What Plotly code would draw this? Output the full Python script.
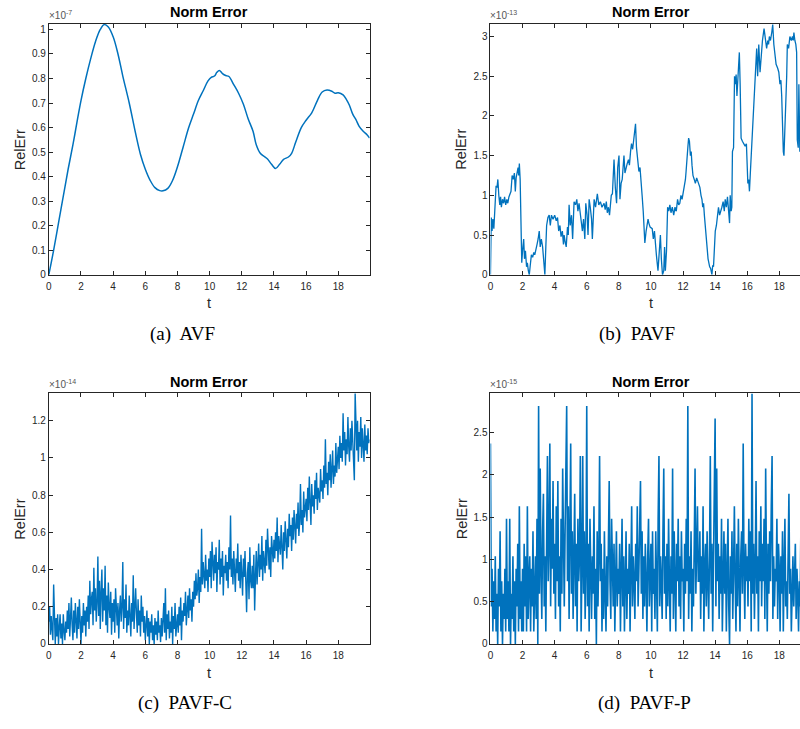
import plotly.graph_objects as go

# ---------------- data ----------------
# (a) AVF, RelErr in units of 1e-7
avf_points = [(0, 0), (0.3, 0.1), (0.6, 0.21), (0.9, 0.32), (1.2, 0.43), (1.5, 0.53), (1.8, 0.64),
              (2.0, 0.71), (2.3, 0.8), (2.6, 0.88), (2.9, 0.95), (3.2, 1.0), (3.45, 1.02), (3.7, 1.01),
              (4.0, 0.97), (4.3, 0.9), (4.6, 0.81), (5.0, 0.7), (5.4, 0.575), (5.7, 0.49), (6.0, 0.43),
              (6.3, 0.385), (6.6, 0.355), (6.9, 0.343), (7.1, 0.342), (7.4, 0.352), (7.7, 0.385),
              (8.0, 0.44), (8.35, 0.52), (8.7, 0.6), (9.0, 0.655), (9.3, 0.71), (9.6, 0.75),
              (9.9, 0.79), (10.1, 0.805), (10.3, 0.81), (10.45, 0.825), (10.6, 0.833), (10.8, 0.82),
              (11.0, 0.812), (11.2, 0.808), (11.5, 0.775), (11.8, 0.74), (12.1, 0.695), (12.4, 0.635),
              (12.7, 0.585), (12.9, 0.53), (13.15, 0.495), (13.4, 0.482), (13.6, 0.472), (13.85, 0.45),
              (14.1, 0.433), (14.35, 0.45), (14.6, 0.47), (14.9, 0.48), (15.1, 0.495), (15.35, 0.54),
              (15.7, 0.6), (16.0, 0.63), (16.35, 0.66), (16.7, 0.71), (17.0, 0.745), (17.3, 0.753),
              (17.6, 0.748), (17.8, 0.74), (18.0, 0.742), (18.3, 0.733), (18.5, 0.715), (18.7, 0.69),
              (18.9, 0.655), (19.1, 0.632), (19.3, 0.605), (19.55, 0.585), (19.8, 0.57), (19.95, 0.557)]

# (b) PAVF, RelErr in units of 1e-13
pavf_points = [(0, 0), (0.05, 0.72), (0.1, 0.55), (0.15, 0.7), (0.21, 0.58), (0.28, 0.95), (0.35, 1.12),
               (0.41, 1.1), (0.46, 1.2), (0.52, 1.0), (0.58, 0.88), (0.63, 0.98), (0.68, 0.85), (0.75, 0.95),
               (0.82, 0.9), (0.88, 0.98), (0.95, 0.88), (1.02, 0.95), (1.08, 0.9), (1.15, 0.98), (1.22, 1.02),
               (1.28, 1.05), (1.35, 1.25), (1.42, 1.2), (1.49, 1.28), (1.55, 1.05), (1.6, 1.22), (1.66, 1.3),
               (1.72, 1.35), (1.76, 1.25), (1.8, 1.4), (1.85, 1.2), (1.9, 0.55), (1.95, 0.15), (2.0, 0.3),
               (2.07, 0.45), (2.12, 0.2), (2.18, 0.3), (2.25, 0.1), (2.3, 0.15), (2.36, 0.05), (2.42, 0.0),
               (2.48, 0.12), (2.55, 0.25), (2.63, 0.22), (2.7, 0.28), (2.76, 0.25), (2.83, 0.3), (2.9, 0.38),
               (2.97, 0.45), (3.04, 0.55), (3.1, 0.35), (3.17, 0.45), (3.25, 0.35), (3.32, 0.2), (3.39, 0.0),
               (3.45, 0.35), (3.5, 0.62), (3.58, 0.72), (3.66, 0.75), (3.73, 0.62), (3.8, 0.75), (3.9, 0.7),
               (4.0, 0.75), (4.1, 0.68), (4.18, 0.72), (4.25, 0.55), (4.33, 0.62), (4.4, 0.48), (4.48, 0.55),
               (4.55, 0.38), (4.59, 0.5), (4.65, 0.42), (4.72, 0.35), (4.8, 0.6), (4.85, 0.5), (4.9, 0.88),
               (4.97, 0.62), (5.05, 0.75), (5.12, 0.45), (5.21, 0.92), (5.3, 0.88), (5.38, 0.95), (5.45, 0.8),
               (5.52, 0.9), (5.63, 0.72), (5.73, 0.55), (5.8, 0.7), (5.88, 0.45), (5.94, 0.9), (6.02, 0.75),
               (6.08, 0.5), (6.15, 0.95), (6.22, 0.85), (6.3, 0.7), (6.35, 0.45), (6.42, 0.88), (6.46, 0.95),
               (6.55, 0.85), (6.66, 1.02), (6.75, 0.88), (6.85, 0.92), (6.95, 0.85), (7.08, 0.9), (7.15, 0.82),
               (7.22, 0.92), (7.28, 0.78), (7.35, 0.85), (7.42, 0.75), (7.49, 0.95), (7.53, 1.0), (7.6, 1.02),
               (7.65, 1.3), (7.7, 1.45), (7.78, 1.1), (7.86, 0.9), (7.93, 1.35), (8.01, 1.5), (8.07, 0.95),
               (8.14, 1.15), (8.21, 1.2), (8.27, 1.38), (8.32, 1.5), (8.38, 1.28), (8.45, 1.35), (8.52, 1.4),
               (8.6, 1.45), (8.66, 1.38), (8.73, 1.55), (8.79, 1.65), (8.86, 1.58), (8.94, 1.75), (9.0, 1.82),
               (9.04, 1.9), (9.1, 1.6), (9.15, 1.5), (9.2, 1.4), (9.25, 1.3), (9.32, 1.35), (9.39, 1.2),
               (9.45, 1.0), (9.52, 0.8), (9.57, 0.5), (9.62, 0.4), (9.7, 0.55), (9.77, 0.68), (9.82, 0.7),
               (9.87, 0.65), (9.95, 0.6), (10.08, 0.58), (10.15, 0.45), (10.22, 0.55), (10.28, 0.35),
               (10.34, 0.25), (10.39, 0.15), (10.44, 0.05), (10.49, 0.2), (10.54, 0.45), (10.59, 0.5),
               (10.65, 0.2), (10.72, 0.0), (10.8, 0.05), (10.85, 0.35), (10.9, 0.05), (10.97, 0.3),
               (11.04, 0.85), (11.11, 0.8), (11.18, 0.88), (11.25, 0.78), (11.33, 0.85), (11.42, 0.75),
               (11.5, 0.85), (11.58, 0.8), (11.66, 0.95), (11.73, 0.88), (11.8, 0.9), (11.87, 1.0),
               (11.94, 0.95), (12.04, 1.05), (12.1, 1.15), (12.15, 1.2), (12.19, 1.3), (12.25, 1.55),
               (12.3, 1.6), (12.35, 1.72), (12.4, 1.68), (12.46, 1.5), (12.51, 1.55), (12.56, 1.38),
               (12.62, 1.25), (12.7, 1.2), (12.77, 1.15), (12.85, 1.22), (12.92, 1.18), (12.97, 1.15),
               (13.05, 1.1), (13.12, 1.0), (13.18, 0.95), (13.23, 0.85), (13.28, 0.9), (13.33, 0.75),
               (13.39, 0.6), (13.44, 0.45), (13.49, 0.3), (13.56, 0.2), (13.66, 0.1), (13.72, 0.08),
               (13.8, 0.0), (13.85, 0.12), (13.9, 0.1), (13.96, 0.3), (14.01, 0.55), (14.08, 0.62),
               (14.15, 0.8), (14.21, 0.85), (14.28, 0.75), (14.35, 0.82), (14.42, 0.85), (14.5, 0.92),
               (14.57, 0.8), (14.63, 0.95), (14.7, 0.85), (14.77, 0.98), (14.84, 0.8), (14.9, 0.65),
               (14.94, 1.0), (15.0, 0.8), (15.04, 0.85), (15.08, 1.55), (15.15, 1.6), (15.21, 2.5),
               (15.26, 2.4), (15.31, 2.52), (15.36, 2.25), (15.42, 2.55), (15.46, 2.7), (15.51, 2.8),
               (15.56, 2.4), (15.62, 1.72), (15.7, 1.68), (15.78, 1.65), (15.87, 1.62), (15.95, 1.65),
               (16.04, 1.15), (16.09, 1.2), (16.14, 1.05), (16.2, 1.3), (16.28, 1.65), (16.35, 1.8),
               (16.42, 2.25), (16.49, 2.5), (16.54, 2.6), (16.59, 2.85), (16.65, 2.5), (16.72, 2.9),
               (16.8, 2.55), (16.88, 2.8), (16.95, 2.95), (17.05, 3.1), (17.12, 2.95), (17.21, 2.85),
               (17.28, 2.95), (17.33, 2.9), (17.38, 3.0), (17.45, 2.95), (17.53, 3.05), (17.59, 3.15),
               (17.66, 2.9), (17.73, 2.8), (17.8, 2.65), (17.9, 2.6), (17.97, 2.55), (18.04, 2.4),
               (18.1, 2.45), (18.15, 2.25), (18.21, 1.6), (18.25, 1.55), (18.29, 1.5), (18.35, 2.0),
               (18.41, 2.2), (18.46, 2.5), (18.5, 2.9), (18.58, 2.85), (18.66, 3.0), (18.75, 2.95),
               (18.82, 3.0), (18.87, 2.95), (18.91, 3.05), (18.97, 2.95), (19.03, 2.9), (19.08, 2.8),
               (19.12, 1.7), (19.18, 1.6), (19.22, 2.4), (19.28, 1.55), (19.35, 1.8), (19.45, 2.0),
               (19.6, 2.2), (19.75, 1.9), (19.95, 1.7)]

# (c) PAVF-C, RelErr in units of 1e-14, sampled every 0.05 in t
pavfc_step = 0.05
pavfc_values = [
    0.12, 0.20, 0.05, 0.15, 0.08, 0.02, 0.32, 0.10, 0.00, 0.14, 0.04, 0.16, 0.00, 0.09, 0.16, 0.03, 0.11, 0.00, 0.16, 0.07,
    0.02, 0.12, 0.06, 0.18, 0.08, 0.22, 0.04, 0.14, 0.25, 0.10, 0.02, 0.18, 0.06, 0.22, 0.12, 0.03, 0.20, 0.08, 0.24, 0.13,
    0.00, 0.15, 0.06, 0.22, 0.10, 0.18, 0.04, 0.20, 0.12, 0.26, 0.08, 0.34, 0.16, 0.24, 0.28, 0.10, 0.41, 0.18, 0.30, 0.12,
    0.22, 0.47, 0.15, 0.34, 0.08, 0.28, 0.40, 0.12, 0.30, 0.18, 0.42, 0.10, 0.26, 0.06, 0.33, 0.20, 0.14, 0.28, 0.05, 0.22,
    0.12, 0.24, 0.06, 0.30, 0.16, 0.10, 0.22, 0.03, 0.18, 0.26, 0.12, 0.20, 0.44, 0.08, 0.24, 0.14, 0.32, 0.06, 0.18, 0.10,
    0.26, 0.14, 0.04, 0.22, 0.12, 0.37, 0.08, 0.20, 0.30, 0.16, 0.06, 0.24, 0.10, 0.18, 0.04, 0.26, 0.12, 0.20, 0.06, 0.15,
    0.02, 0.10, 0.18, 0.04, 0.14, 0.00, 0.12, 0.06, 0.16, 0.02, 0.10, 0.00, 0.14, 0.05, 0.12, 0.02, 0.18, 0.06, 0.10, 0.01,
    0.14, 0.04, 0.12, 0.22, 0.06, 0.30, 0.02, 0.16, 0.08, 0.18, 0.03, 0.12, 0.06, 0.20, 0.00, 0.15, 0.08, 0.22, 0.04, 0.10,
    0.16, 0.06, 0.20, 0.10, 0.25, 0.02, 0.18, 0.12, 0.22, 0.15, 0.28, 0.10, 0.20, 0.26, 0.14, 0.30, 0.18, 0.24, 0.12, 0.28,
    0.20, 0.34, 0.24, 0.38, 0.26, 0.30, 0.40, 0.22, 0.36, 0.28, 0.62, 0.32, 0.44, 0.36, 0.30, 0.48, 0.34, 0.40, 0.28, 0.46,
    0.36, 0.50, 0.30, 0.55, 0.42, 0.34, 0.48, 0.38, 0.52, 0.28, 0.44, 0.40, 0.56, 0.32, 0.46, 0.36, 0.50, 0.26, 0.42, 0.38,
    0.48, 0.34, 0.44, 0.30, 0.52, 0.40, 0.69, 0.36, 0.46, 0.32, 0.50, 0.42, 0.28, 0.46, 0.38, 0.54, 0.34, 0.44, 0.30, 0.48,
    0.40, 0.26, 0.46, 0.36, 0.50, 0.30, 0.17, 0.38, 0.44, 0.24, 0.52, 0.34, 0.30, 0.42, 0.30, 0.48, 0.18, 0.36, 0.50, 0.32,
    0.42, 0.54, 0.36, 0.48, 0.40, 0.58, 0.34, 0.50, 0.44, 0.38, 0.56, 0.42, 0.62, 0.46, 0.40, 0.52, 0.36, 0.58, 0.48, 0.44,
    0.56, 0.46, 0.60, 0.50, 0.68, 0.44, 0.58, 0.52, 0.48, 0.64, 0.54, 0.40, 0.60, 0.50, 0.66, 0.56, 0.46, 0.62, 0.52, 0.70,
    0.58, 0.64, 0.50, 0.68, 0.56, 0.72, 0.60, 0.54, 0.70, 0.62, 0.76, 0.58, 0.66, 0.86, 0.64, 0.72, 0.60, 0.82, 0.68, 0.74,
    0.78, 0.66, 0.84, 0.72, 0.90, 0.76, 0.64, 0.86, 0.74, 0.80, 0.70, 0.88, 0.78, 0.92, 0.72, 0.84, 0.80, 0.76, 0.94, 0.82,
    0.88, 0.78, 0.96, 0.84, 1.10, 0.86, 0.92, 0.80, 0.98, 0.88, 1.02, 0.84, 0.94, 1.04, 0.86, 0.96, 0.90, 1.08, 0.92, 1.00,
    1.06, 0.94, 1.12, 1.00, 1.08, 0.98, 1.24, 1.04, 1.14, 0.96, 1.10, 1.02, 1.22, 1.06, 0.98, 1.16, 1.04, 1.20, 1.08, 1.00,
    0.88, 1.35, 1.12, 1.04, 1.20, 0.98, 1.14, 1.06, 1.22, 1.00, 1.16, 1.08, 0.98, 1.18, 1.04, 1.12, 1.02, 1.16, 1.08, 1.10,
]

# (d) PAVF-P, RelErr quantised in steps of ~0.148e-15, sampled every 0.05 in t
pavfp_step = 0.05
pavfp_quantum = 0.148
pavfp_levels = [
    16, 3, 6, 1, 5, 2, 7, 1, 4, 0, 6, 3, 9, 1, 5, 0, 4, 2, 6, 1,
    10, 2, 5, 1, 10, 0, 4, 2, 7, 1, 5, 0, 6, 3, 8, 1, 11, 2, 5, 1,
    6, 1, 8, 3, 7, 1, 11, 2, 5, 7, 1, 6, 3, 9, 1, 4, 7, 2, 10, 0,
    19, 4, 14, 6, 2, 9, 12, 3, 7, 1, 10, 15, 5, 8, 16, 3, 10, 6, 13, 4,
    8, 2, 11, 5, 13, 3, 7, 1, 10, 4, 14, 6, 3, 9, 16, 19, 5, 11, 2, 8,
    16, 4, 9, 2, 7, 12, 3, 8, 1, 10, 5, 7, 15, 1, 6, 15, 4, 9, 2, 6,
    19, 3, 8, 1, 10, 5, 2, 7, 4, 11, 2, 6, 0, 9, 3, 7, 15, 5, 8, 1,
    6, 2, 9, 4, 1, 7, 3, 8, 13, 5, 2, 10, 6, 3, 8, 1, 5, 9, 3, 6,
    4, 8, 1, 6, 10, 3, 7, 1, 5, 9, 2, 6, 4, 8, 1, 6, 11, 3, 7, 5,
    2, 8, 5, 11, 3, 6, 12, 13, 4, 9, 2, 7, 3, 8, 5, 1, 7, 10, 3, 6,
    8, 1, 9, 4, 6, 2, 9, 5, 1, 10, 15, 3, 7, 5, 2, 9, 14, 4, 7, 2,
    8, 3, 10, 5, 1, 7, 4, 14, 2, 9, 6, 1, 8, 5, 10, 3, 7, 2, 9, 5,
    6, 1, 8, 4, 10, 5, 19, 2, 7, 4, 9, 1, 6, 3, 8, 14, 4, 7, 11, 5,
    5, 9, 2, 7, 4, 11, 1, 6, 8, 3, 9, 5, 2, 7, 15, 4, 8, 1, 6, 10,
    18, 3, 14, 5, 8, 2, 7, 4, 10, 1, 6, 9, 4, 8, 1, 5, 10, 3, 0, 7,
    4, 9, 2, 6, 11, 5, 1, 8, 3, 10, 6, 1, 7, 9, 4, 16, 6, 2, 8, 5,
    7, 3, 10, 5, 9, 1, 20, 4, 8, 2, 6, 13, 4, 7, 1, 9, 5, 11, 3, 8,
    5, 10, 2, 14, 6, 1, 8, 4, 9, 5, 11, 15, 2, 7, 3, 6, 5, 10, 2, 8,
    6, 1, 7, 4, 9, 1, 6, 10, 3, 5, 2, 8, 12, 4, 6, 1, 5, 7, 3, 5,
    8, 2, 6, 4, 1, 5, 3, 10, 2, 5, 3, 7, 4, 1, 6, 3, 5, 2, 7, 4,
]

x_ticks = [0, 2, 4, 6, 8, 10, 12, 14, 16, 18]
captions = ["(a)\u00a0 AVF", "(b)\u00a0 PAVF", "(c)\u00a0 PAVF-C", "(d)\u00a0 PAVF-P"]
exponents = ["-7", "-13", "-14", "-15"]

# ---------------- figure ----------------
W, H = 800, 729
BLUE = "#0072BD"
AX = "#262626"


def px_x(p):
    return p / W


def px_y(p):
    return 1 - p / H


avf_t = [p[0] for p in avf_points]
avf_v = [p[1] for p in avf_points]
pavf_t = [p[0] for p in pavf_points]
pavf_v = [p[1] for p in pavf_points]
pavfc_t = [i * pavfc_step for i in range(len(pavfc_values))]
pavfp_t = [i * pavfp_step for i in range(len(pavfp_levels))]
pavfp_v = [k * pavfp_quantum for k in pavfp_levels]

fig = go.Figure()
fig.add_trace(go.Scatter(x=avf_t, y=avf_v, mode="lines", line=dict(color=BLUE, width=1.5, shape="spline", smoothing=1.0),
                         xaxis="x", yaxis="y", showlegend=False))
fig.add_trace(go.Scatter(x=pavf_t, y=pavf_v, mode="lines", line=dict(color=BLUE, width=1.3),
                         xaxis="x2", yaxis="y2", showlegend=False))
fig.add_trace(go.Scatter(x=pavfc_t, y=pavfc_values, mode="lines", line=dict(color=BLUE, width=1.4),
                         xaxis="x3", yaxis="y3", showlegend=False))
fig.add_trace(go.Scatter(x=pavfp_t, y=pavfp_v, mode="lines", line=dict(color=BLUE, width=1.6),
                         xaxis="x4", yaxis="y4", showlegend=False))

# pixel boxes: (left, right, top, bottom)
boxes = [(46, 368, 24, 277), (489.3, 800, 24, 277), (46, 368, 396.7, 649.3), (489.3, 800, 396.7, 649.3)]
xranges = [[0, 19.95], [0, 19.29], [0, 19.95], [0, 19.29]]
yranges = [[0, 1.023], [0, 3.16], [0, 1.347], [0, 2.96]]
ydticks = [0.1, 0.5, 0.2, 0.5]

tickfont = dict(family="Liberation Sans, Arial, sans-serif", size=10, color=AX)
layout = dict(width=W, height=H, margin=dict(l=0, r=0, t=0, b=0), paper_bgcolor="white",
              plot_bgcolor="white", showlegend=False)
for i, (l, r, t, b) in enumerate(boxes):
    sx = "" if i == 0 else str(i + 1)
    right_panel = i in (1, 3)
    layout["xaxis" + sx] = dict(domain=[px_x(l), min(1, px_x(r))], range=xranges[i], anchor="y" + sx,
                                tickmode="array", tickvals=x_ticks, ticks="inside", ticklen=4, tickwidth=1,
                                tickcolor=AX, showline=True, linecolor=AX, linewidth=1, mirror="ticks",
                                showgrid=False, zeroline=False, tickfont=tickfont, ticklabelstandoff=2)
    layout["yaxis" + sx] = dict(domain=[px_y(b), px_y(t)], range=yranges[i], anchor="x" + sx,
                                dtick=ydticks[i], tick0=0, ticks="inside", ticklen=4, tickwidth=1,
                                tickcolor=AX, showline=True, linecolor=AX, linewidth=1,
                                mirror=False if right_panel else "ticks",
                                showgrid=False, zeroline=False, tickfont=tickfont)
fig.update_layout(**layout)

ann = []
caption_cx = [180, 636, 183, 644]
for i, (l, r, t, b) in enumerate(boxes):
    full_r = l + 322
    cx = (l + full_r) / 2
    ann.append(dict(text="<b>Norm Error</b>", x=px_x(cx), y=px_y(t - 12), xref="paper", yref="paper",
                    xanchor="center", yanchor="middle", showarrow=False,
                    font=dict(family="Liberation Sans, Arial, sans-serif", size=14.5, color="black")))
    ann.append(dict(text="\u00d710<sup>" + exponents[i] + "</sup>", x=px_x(l - 2), y=px_y(t - 1), xref="paper",
                    yref="paper", xanchor="left", yanchor="bottom", showarrow=False,
                    font=dict(family="Liberation Sans, Arial, sans-serif", size=10, color="#555555")))
    ann.append(dict(text="RelErr", x=px_x(l - 29), y=px_y((t + b) / 2), xref="paper", yref="paper",
                    xanchor="center", yanchor="middle", textangle=-90, showarrow=False,
                    font=dict(family="Liberation Sans, Arial, sans-serif", size=14.5, color=AX)))
    ann.append(dict(text="t", x=px_x(cx), y=px_y(b + 29), xref="paper", yref="paper",
                    xanchor="center", yanchor="middle", showarrow=False,
                    font=dict(family="Liberation Sans, Arial, sans-serif", size=14.5, color=AX)))
    ann.append(dict(text=captions[i], x=px_x(caption_cx[i]), y=px_y(b + 60), xref="paper", yref="paper",
                    xanchor="center", yanchor="middle", showarrow=False,
                    font=dict(family="Liberation Serif, Times New Roman, serif", size=19, color="black")))
fig.update_layout(annotations=ann)

fig.write_html("out.html", config={"displayModeBar": False, "staticPlot": True},
               post_script="document.body.style.margin='0px';document.body.style.overflow='hidden';")
